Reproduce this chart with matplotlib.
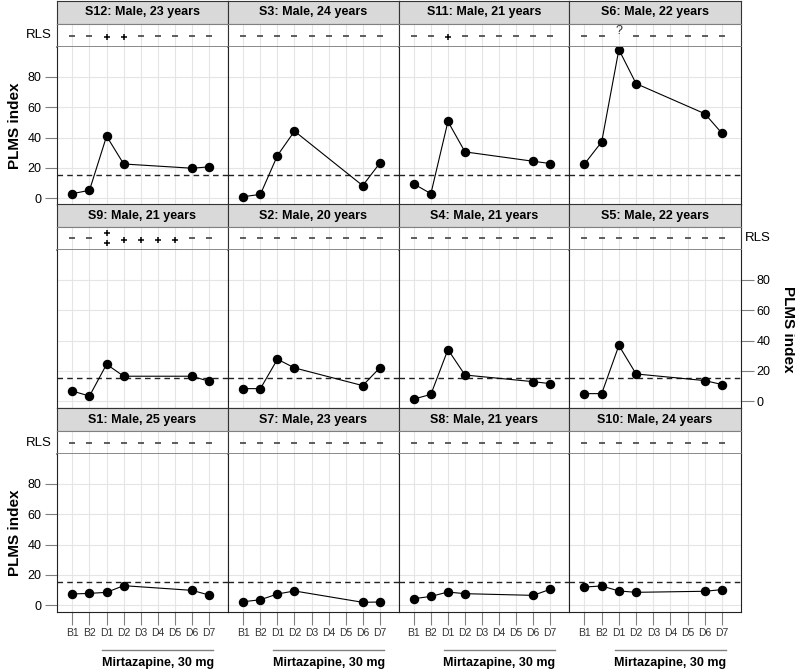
import matplotlib
matplotlib.use('Agg')
import matplotlib.pyplot as plt
import matplotlib.transforms as mtransforms

plt.rcParams['font.family'] = ['Liberation Sans Narrow', 'Liberation Sans', 'DejaVu Sans']

days = ['B1', 'B2', 'D1', 'D2', 'D3', 'D4', 'D5', 'D6', 'D7']
measured = ['B1', 'B2', 'D1', 'D2', 'D6', 'D7']

# PLMS index per subject
s12 = [2.9, 5.1, 40.9, 22.5, 19.7, 20.6]
s3 = [0.9, 2.4, 28.1, 44.2, 8.2, 23.0]
s11 = [9.3, 2.9, 50.6, 30.5, 24.3, 22.8]
s6 = [22.5, 37.1, 98.1, 75.6, 55.7, 42.7]
s9 = [6.6, 3.3, 24.3, 16.4, 16.4, 13.0]
s2 = [8.2, 8.2, 27.6, 21.9, 10.2, 21.9]
s4 = [1.3, 4.4, 34.0, 17.2, 12.8, 11.5]
s5 = [4.9, 4.9, 36.7, 17.9, 13.5, 10.9]
s1 = [7.3, 7.7, 8.4, 12.8, 9.7, 6.6]
s7 = [2.2, 3.5, 7.3, 9.3, 1.8, 2.0]
s8 = [4.2, 5.7, 8.6, 7.5, 6.4, 10.4]
s10 = [11.9, 12.6, 9.3, 8.4, 9.1, 10.2]

# RLS symptoms per day
none = ['-'] * 9
rls_s12 = ['-', '-', '+', '+', '-', '-', '-', '-', '-']
rls_s11 = ['-', '-', '+', '-', '-', '-', '-', '-', '-']
rls_s6 = ['-', '-', '?', '-', '-', '-', '-', '-', '-']
rls_s9 = ['-', '-', '++', '+', '+', '+', '+', '-', '-']

titles = [
    ['S12: Male, 23 years', 'S3: Male, 24 years', 'S11: Male, 21 years', 'S6: Male, 22 years'],
    ['S9: Male, 21 years', 'S2: Male, 20 years', 'S4: Male, 21 years', 'S5: Male, 22 years'],
    ['S1: Male, 25 years', 'S7: Male, 23 years', 'S8: Male, 21 years', 'S10: Male, 24 years'],
]
values = [[s12, s3, s11, s6], [s9, s2, s4, s5], [s1, s7, s8, s10]]
rls = [[rls_s12, none, rls_s11, rls_s6], [rls_s9, none, none, none], [none, none, none, none]]

threshold = 15
yticks = [0, 20, 40, 60, 80]

W, H = 795, 671
fig = plt.figure(figsize=(W / 100, H / 100), dpi=100)

col_x = [57, 228, 398.5, 569, 741]
row_top = [1, 204, 408]
strip_h = 23
rls_h = 23
plot_h = 158

xpos = {d: i + 1 for i, d in enumerate(days)}
mx = [xpos[d] for d in measured]
xlim = (0.1, 10.1)
ylim = (-4.6, 99.8)
grid_c = '#e5e5e5'
frame_grey = '#808080'
sym_c = '#333333'


def fa(x0, y0, w, h):
    return fig.add_axes([x0 / W, 1 - (y0 + h) / H, w / W, h / H])


for r in range(3):
    for c in range(4):
        x0 = col_x[c]
        w = col_x[c + 1] - col_x[c]
        top = row_top[r]

        # strip
        sa = fa(x0, top, w, strip_h)
        sa.set_facecolor('#d9d9d9')
        sa.set_xticks([])
        sa.set_yticks([])
        for s in sa.spines.values():
            s.set_color('#333333')
            s.set_linewidth(0.8)
        sa.spines['bottom'].set_color(frame_grey)
        sa.text(0.5, 0.5, titles[r][c], ha='center', va='center', fontsize=9,
                fontweight='bold', transform=sa.transAxes)

        # RLS band
        ra = fa(x0, top + strip_h, w, rls_h)
        ra.set_xlim(xlim)
        ra.set_ylim(0, 1)
        ra.set_xticks([])
        ra.set_yticks([])
        for xv in xpos.values():
            ra.axvline(xv, color=grid_c, lw=0.8, zorder=0)
        for s in ra.spines.values():
            s.set_color('#333333')
            s.set_linewidth(0.8)
        ra.spines['top'].set_color(frame_grey)
        ra.spines['bottom'].set_color(frame_grey)
        ra.spines['bottom'].set_linewidth(1.3)
        for d, sym in zip(days, rls[r][c]):
            xv = xpos[d]
            if sym == '-':
                ra.plot([xv], [0.5], marker='_', ms=4.2, mew=1.1, color=sym_c)
            elif sym == '++':
                ra.plot([xv, xv], [0.72, 0.3], ls='none', marker='+', ms=4.8, mew=1.1,
                        color='black')
            elif sym == '?':
                ra.text(xv, 0.68, '?', ha='center', va='center', fontsize=9, color=sym_c)
            else:
                ra.plot([xv], [0.42], marker='+', ms=5, mew=1.1, color='black')

        # PLMS panel
        ax = fa(x0, top + strip_h + rls_h, w, plot_h)
        ax.set_xlim(xlim)
        ax.set_ylim(ylim)
        for xv in xpos.values():
            ax.axvline(xv, color=grid_c, lw=0.8, zorder=0)
        for yv in yticks:
            ax.axhline(yv, color=grid_c, lw=0.8, zorder=0)
        ax.axhline(threshold, color='#222222', lw=1.0, ls=(0, (4, 3)), zorder=1)
        ax.plot(mx, values[r][c], color='black', lw=0.8, marker='o', markersize=5.8, zorder=3)
        for s in ax.spines.values():
            s.set_color('#222222')
            s.set_linewidth(0.8)
        ax.spines['top'].set_visible(False)

        ax.tick_params(axis='both', color=frame_grey, length=9, width=0.8, labelsize=9,
                       pad=2)
        ax.set_yticks(yticks)
        left_side = (r != 1 and c == 0)
        right_side = (r == 1 and c == 3)
        ax.tick_params(axis='y', left=left_side, labelleft=left_side,
                       right=right_side, labelright=right_side)
        if left_side:
            ax.set_ylabel('PLMS index', fontsize=11, fontweight='bold', labelpad=4)
            ra.text(-0.03, 0.5, 'RLS', ha='right', va='center', fontsize=9.5,
                    transform=ra.transAxes)
        if right_side:
            ax.yaxis.set_label_position('right')
            ax.set_ylabel('PLMS index', fontsize=11, fontweight='bold', labelpad=8,
                          rotation=270, va='bottom')
            ra.text(1.02, 0.5, 'RLS', ha='left', va='center', fontsize=9.5,
                    transform=ra.transAxes)

        if r == 2:
            ax.set_xticks(list(xpos.values()))
            ax.set_xticklabels(days, fontsize=7.5, color='#333333')
            ax.tick_params(axis='x', length=9.5, pad=2)
            trans = mtransforms.blended_transform_factory(ax.transData, ax.transAxes)
            ax.plot([xpos['D1'] - 0.25, xpos['D7'] + 0.25], [-0.24, -0.24], color=frame_grey,
                    lw=1.0, transform=trans, clip_on=False)
            ax.text((xpos['D1'] + xpos['D7']) / 2, -0.32, 'Mirtazapine, 30 mg', ha='center',
                    va='center', fontsize=9, fontweight='bold', transform=trans)
        else:
            ax.set_xticks([])

fig.savefig('out.png', dpi=100)
